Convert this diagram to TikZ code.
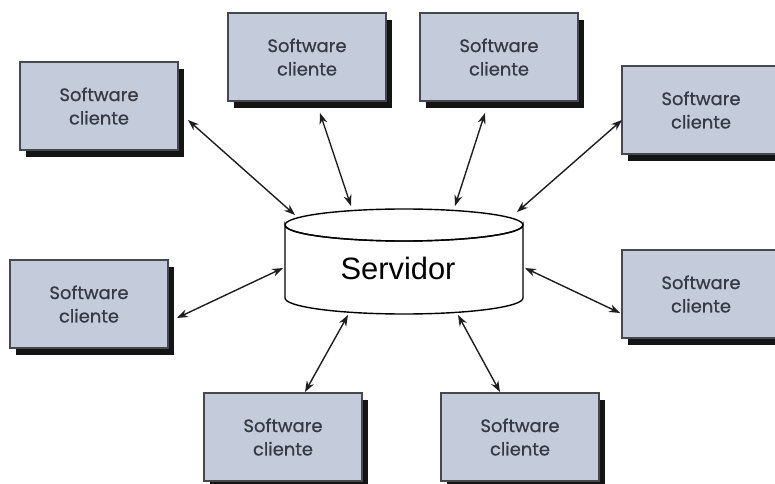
\documentclass[tikz,border=0pt]{standalone}
\usepackage{fontspec}
\setmainfont{Liberation Sans}
\newfontfamily\clientfont[FakeBold=0.7]{Poppins}
\usetikzlibrary{arrows.meta,shadows}
\definecolor{boxfill}{RGB}{196,204,220}
\definecolor{boxline}{RGB}{70,72,78}
\definecolor{boxtext}{RGB}{55,58,68}
\definecolor{linkcol}{RGB}{30,30,30}
\begin{document}
\begin{tikzpicture}[x=1bp,y=-1bp,
  client/.style={draw=boxline, line width=1.5bp, fill=boxfill,
    minimum width=158bp, minimum height=88bp, inner sep=0pt,
    align=center, text=boxtext,
    font=\clientfont\fontsize{18}{23.5}\selectfont,
    drop shadow={shadow xshift=6bp, shadow yshift=-7bp, fill=black!92, opacity=1}},
  link/.style={linkcol, line width=1.4bp,
    {Stealth[length=11bp,width=8bp]}-{Stealth[length=11bp,width=8bp]}}]
\useasboundingbox (0,0) rectangle (775,484);

% client boxes
\node[client] (b1) at (99,106)  {Software\\cliente};
\node[client] (b2) at (307,57)  {Software\\cliente};
\node[client] (b3) at (499,57)  {Software\\cliente};
\node[client] (b4) at (701,110) {Software\\cliente};
\node[client] (b5) at (89,304)  {Software\\cliente};
\node[client] (b6) at (701,294) {Software\\cliente};
\node[client] (b7) at (283,437) {Software\\cliente};
\node[client] (b8) at (520,437) {Software\\cliente};

% server cylinder
\draw[line width=1.4bp, fill=white] (285,225) -- (285,298)
  arc[start angle=180, end angle=0, x radius=119, y radius=16]
  -- (523,225)
  arc[start angle=0, end angle=180, x radius=119, y radius=16] -- cycle;
\draw[line width=1.4bp] (404,225) ellipse[x radius=119, y radius=16];
\node[font=\fontsize{31}{34}\selectfont] (srv) at (398,268) {Servidor};

% link end points
\coordinate (p1) at (188,120); \coordinate (s1) at (295,215);
\coordinate (p2) at (320,113); \coordinate (s2) at (351,206);
\coordinate (p3) at (485,113); \coordinate (s3) at (455,206);
\coordinate (p4) at (622,120); \coordinate (s4) at (517,212);
\coordinate (p5) at (177,318); \coordinate (s5) at (283,268);
\coordinate (p6) at (620,313); \coordinate (s6) at (525,268);
\coordinate (p7) at (305,392); \coordinate (s7) at (348,315);
\coordinate (p8) at (500,392); \coordinate (s8) at (458,315);

% links between clients and server
\foreach \i in {1,...,8} \draw[link] (p\i) -- (s\i);
\end{tikzpicture}
\end{document}
